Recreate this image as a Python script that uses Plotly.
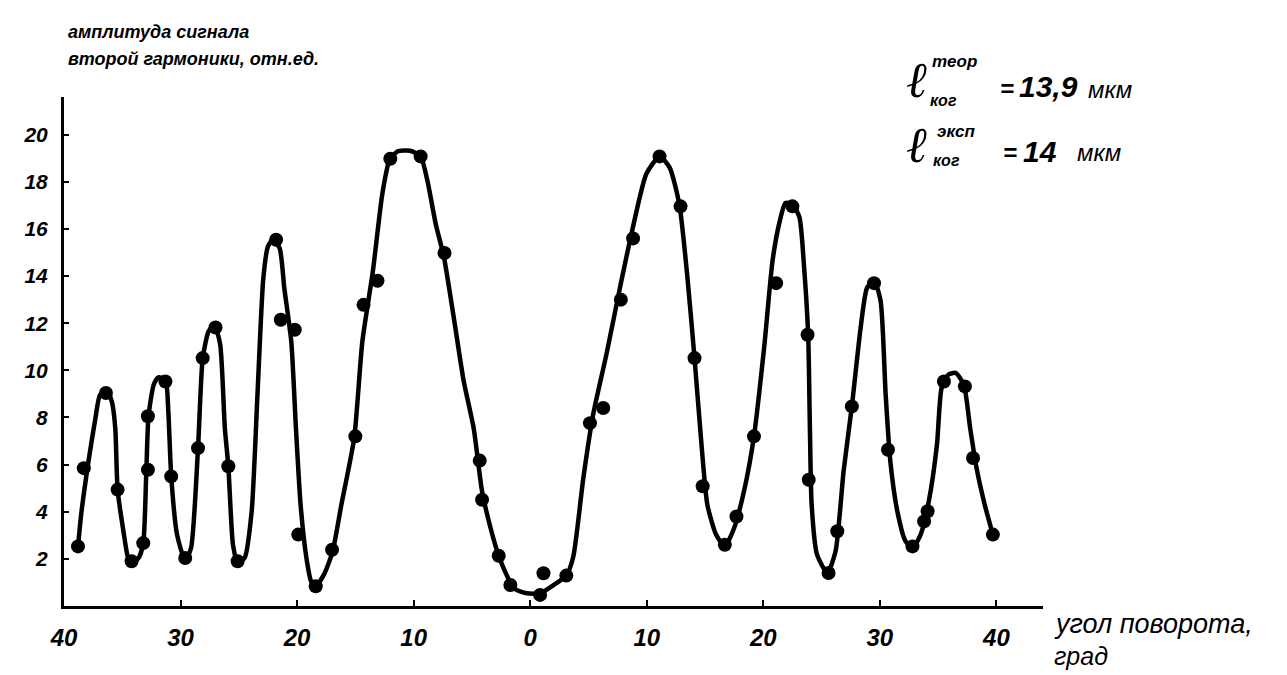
import plotly.graph_objects as go

# ---- data ----
# smooth theoretical curve (angle, amplitude)
curve_x = [-38.8, -38.5, -37.9, -37.3, -36.9, -36.3, -35.9, -35.6, -35.4, -34.9, -34.5, -34.2,
           -33.6, -33.2, -32.95, -32.75, -32.3, -31.9, -31.3, -31.05, -30.8, -30.3, -29.6, -29.1,
           -28.5, -28.1, -27.6, -27.1, -26.6, -26.2, -25.9, -25.5, -25.1, -24.5, -23.9, -23.4,
           -22.9, -22.5, -22.1, -21.5, -21.1, -20.5, -20.1, -19.7, -19.2, -18.8, -18.4, -17.7,
           -16.95, -16.2, -15.1, -14.4, -13.5, -12.7, -12.1, -11.4, -10.3, -9.4, -8.8, -8.1,
           -7.4, -6.55, -5.7, -4.85, -4.13, -3.4, -2.7, -2.0, -1.4, -0.3, 0.85, 2.0,
           3.1, 3.7, 4.56, 5.4, 6.55, 7.7, 8.8, 9.97, 11.1, 11.97, 12.8, 13.5,
           14.1, 14.7, 15.2, 15.95, 16.7, 17.5, 18.4, 19.2, 20.1, 20.8, 21.4, 21.9,
           22.5, 23.1, 23.5, 23.85, 24.0, 24.15, 24.6, 25.5, 26.2, 26.9, 27.6, 28.35,
           28.9, 29.5, 30.06, 30.5, 30.9, 31.5, 32.2, 32.8, 33.5, 34.2, 34.9, 35.3,
           35.9, 36.5, 37.2, 37.75, 38.3, 39.0, 39.7]
curve_y = [2.53, 4.0, 6.14, 7.98, 8.97, 9.11, 8.68, 7.55, 4.94, 3.17, 2.04, 1.83,
           2.04, 2.67, 5.5, 8.05, 9.39, 9.7, 9.6, 8.26, 5.5, 3.03, 1.93, 2.46,
           6.7, 10.5, 11.65, 11.93, 11.1, 7.55, 5.93, 2.6, 1.83, 2.04, 4.0, 8.97,
           13.9, 15.26, 15.54, 15.19, 13.5, 11.23, 7.55, 4.3, 2.04, 1.05, 0.84, 1.33,
           2.32, 4.3, 7.13, 11.23, 14.2, 17.45, 18.87, 19.29, 19.32, 19.08, 18.0, 16.2,
           14.8, 12.22, 9.53, 7.55, 4.87, 3.31, 2.13, 1.29, 0.75, 0.54, 0.54, 0.89,
           1.29, 2.1, 5.43, 8.12, 10.7, 13.5, 16.04, 18.34, 19.08, 18.6, 17.03, 13.9,
           10.52, 6.84, 4.3, 3.03, 2.53, 3.31, 5.0, 7.2, 11.1, 14.67, 16.3, 17.1,
           17.05, 16.5, 14.38, 11.5, 7.55, 4.3, 2.2, 1.4, 2.32, 5.76, 8.47, 11.8,
           13.5, 13.8, 12.97, 8.97, 6.14, 4.02, 2.75, 2.46, 3.03, 4.44, 6.84, 9.25,
           9.82, 9.89, 9.4, 7.55, 5.85, 4.3, 3.03]

# measured points
meas_x = [-38.8, -38.3, -36.4, -35.4, -34.2, -33.2, -32.8, -32.8, -31.3, -30.8, -29.6, -28.5,
          -28.1, -27.0, -25.9, -25.1, -21.8, -21.4, -20.2, -19.9, -18.4, -17.0, -15.0, -14.3,
          -13.1, -12.0, -9.4, -7.35, -4.33, -4.13, -2.7, -1.7, 0.85, 1.14, 3.1, 5.13,
          6.27, 7.78, 8.83, 11.1, 12.9, 14.1, 14.8, 16.7, 17.7, 19.2, 21.1, 22.5,
          23.8, 23.9, 25.6, 26.35, 27.6, 29.5, 30.7, 32.8, 33.8, 34.1, 35.5, 37.3,
          38.0, 39.7]
meas_y = [2.53, 5.85, 9.04, 4.94, 1.9, 2.67, 5.78, 8.05, 9.53, 5.5, 2.04, 6.7,
          10.52, 11.82, 5.93, 1.9, 15.54, 12.15, 11.72, 3.03, 0.84, 2.39, 7.2, 12.78,
          13.8, 18.98, 19.08, 14.98, 6.17, 4.51, 2.13, 0.89, 0.47, 1.39, 1.29, 7.76,
          8.4, 13.0, 15.6, 19.08, 16.96, 10.52, 5.08, 2.6, 3.8, 7.2, 13.7, 16.96,
          11.51, 5.36, 1.4, 3.17, 8.47, 13.7, 6.63, 2.53, 3.59, 4.02, 9.53, 9.32,
          6.28, 3.03]

x_tick_vals = [-40, -30, -20, -10, 0, 10, 20, 30, 40]
x_tick_text = ["40", "30", "20", "10", "0", "10", "20", "30", "40"]
y_tick_vals = [2, 4, 6, 8, 10, 12, 14, 16, 18, 20]
y_tick_text = ["2", "4", "6", "8", "10", "12", "14", "16", "18", "20"]

# page body has an 8px default margin -> compensate
OFF = 8
W, H = 1287 - OFF, 675 - OFF
NUMFONT = "Liberation Sans, Arial, DejaVu Sans"
TXTFONT = "Liberation Sans, Arial, DejaVu Sans"


def fx(px):
    return (px - OFF) / W


def fy(py):
    return 1 - (py - OFF) / H


fig = go.Figure()
fig.add_trace(go.Scatter(x=curve_x, y=curve_y, mode="lines",
                         line=dict(color="black", width=4.5, shape="spline", smoothing=0.6),
                         hoverinfo="skip", showlegend=False))
fig.add_trace(go.Scatter(x=meas_x, y=meas_y, mode="markers",
                         marker=dict(color="black", size=14), showlegend=False))

fig.update_layout(
    width=W, height=H,
    margin=dict(l=0, r=0, t=0, b=0, autoexpand=False),
    paper_bgcolor="white", plot_bgcolor="white",
    xaxis=dict(domain=[fx(64), fx(1043)], range=[-40, 44], showgrid=False, zeroline=False,
               automargin=False,
               showline=True, linecolor="black", linewidth=3,
               ticks="inside", ticklen=6, tickwidth=2, tickcolor="black",
               tickvals=x_tick_vals, ticktext=x_tick_text,
               tickfont=dict(family=NUMFONT, size=24, color="black", weight="bold", style="italic"),
               ticklabelstandoff=8),
    yaxis=dict(domain=[fy(606), fy(97)], range=[0, 21.6], showgrid=False,
               zeroline=False, automargin=False, showline=True, linecolor="black", linewidth=3,
               ticks="inside", ticklen=5, tickwidth=2, tickcolor="black",
               tickvals=y_tick_vals, ticktext=y_tick_text,
               tickfont=dict(family=NUMFONT, size=21, color="black", weight="bold", style="italic"),
               ticklabelstandoff=9),
)


def txt(s, px, py, size, anchor="left", bold=False, italic=True, family=TXTFONT):
    fig.add_annotation(text=s, x=fx(px), y=fy(py), xref="paper", yref="paper",
                       xanchor=anchor, yanchor="middle", showarrow=False,
                       font=dict(family=family, size=size, color="black",
                                 weight="bold" if bold else "normal",
                                 style="italic" if italic else "normal"))


# y-axis title (two lines)
txt("амплитуда сигнала", 66, 32, 18, bold=True)
txt("второй гармоники, отн.ед.", 66, 59, 18, bold=True)

# x-axis title
txt("угол поворота,", 1052, 624, 27)
txt("град", 1052, 656, 25)

# coherence length annotations (row 1: theory, row 2: experiment)
txt("ℓ", 904, 80, 50, family="DejaVu Serif")
txt("теор", 930, 61, 17, bold=True)
txt("ког", 928, 100, 16, bold=True)
txt("=", 998, 88, 24, bold=True)
txt("13,9", 1017, 86, 30, bold=True)
txt("мкм", 1086, 89, 24)

txt("ℓ", 904, 145, 50, family="DejaVu Serif")
txt("эксп", 935, 132, 17, bold=True)
txt("ког", 931, 161, 16, bold=True)
txt("=", 1001, 152, 24, bold=True)
txt("14", 1021, 151, 30, bold=True)
txt("мкм", 1075, 153, 24)

fig.write_html("out.html")
